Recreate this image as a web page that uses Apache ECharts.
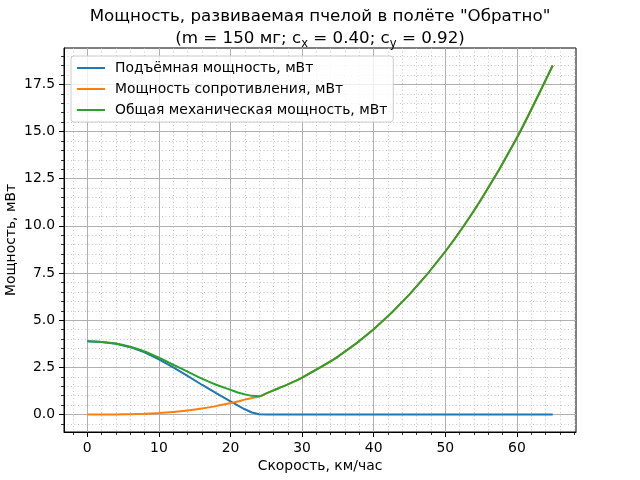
<!DOCTYPE html>
<html>
<head>
<meta charset="utf-8">
<script src="https://cdn.jsdelivr.net/npm/echarts@6/dist/echarts.min.js"></script>
<style>
  html, body { margin: 0; padding: 0; background: #fff; }
  #main { width: 640px; height: 480px; }
</style>
</head>
<body>
<div id="main"></div>
<script>
// скорость, км/час
var speeds = [0, 2, 4, 6, 8, 10, 12, 14, 16, 18, 20, 21, 22, 23, 24, 25, 26, 28, 30, 35, 40, 45, 50, 55, 60, 65];
// мощности, мВт
var liftPower = [3.88, 3.85, 3.75, 3.57, 3.30, 2.93, 2.50, 2.05, 1.58, 1.13, 0.70, 0.48, 0.28, 0.11, 0.02, 0, 0, 0, 0, 0, 0, 0, 0, 0, 0, 0];
var dragPower = [0, 0.001, 0.006, 0.018, 0.043, 0.081, 0.138, 0.216, 0.317, 0.447, 0.605, 0.69, 0.79, 0.88, 0.95, 1.12, 1.28, 1.60, 1.96, 3.07, 4.52, 6.37, 8.64, 11.40, 14.67, 18.5];
var totalPower = [3.88, 3.85, 3.76, 3.59, 3.34, 3.01, 2.64, 2.27, 1.90, 1.58, 1.31, 1.17, 1.07, 0.99, 0.97, 1.12, 1.28, 1.60, 1.96, 3.07, 4.52, 6.37, 8.64, 11.40, 14.67, 18.5];

var seriesNames = ['Подъёмная мощность, мВт', 'Мощность сопротивления, мВт', 'Общая механическая мощность, мВт'];
var seriesColors = ['#1f77b4', '#ff7f0e', '#2ca02c'];

var xMajor = [0, 10, 20, 30, 40, 50, 60];
var xMinor = [-2, 2, 4, 6, 8, 12, 14, 16, 18, 22, 24, 26, 28, 32, 34, 36, 38, 42, 44, 46, 48, 52, 54, 56, 58, 62, 64, 66, 68];
var yMajor = [0, 2.5, 5, 7.5, 10, 12.5, 15, 17.5];
var yMinor = [-0.5, 0.5, 1, 1.5, 2, 3, 3.5, 4, 4.5, 5.5, 6, 6.5, 7, 8, 8.5, 9, 9.5, 10.5, 11, 11.5, 12, 13, 13.5, 14, 14.5, 15.5, 16, 16.5, 17, 18, 18.5, 19];

var FONT = 'DejaVu Sans';

function pairs(ys) {
  return speeds.map(function (v, i) { return [v, ys[i]]; });
}

var chart = echarts.init(document.getElementById('main'));

var minorAxis = {
  axisLine: { show: false, onZero: false },
  axisLabel: { show: false },
  splitLine: { show: true, lineStyle: { color: '#b8b8b8', width: 0.8, type: [1, 2.5] } }
};

var option = {
  animation: false,
  backgroundColor: '#fff',
  textStyle: { fontFamily: FONT },
  title: {
    left: 'center',
    top: 1,
    text: 'Мощность, развиваемая пчелой в полёте "Обратно"\n(m = 150 мг; c{sub|x} = 0.40; c{sub|y} = 0.92)',
    textStyle: {
      fontFamily: FONT, fontSize: 16.7, fontWeight: 'normal', color: '#000', lineHeight: 22,
      rich: {
        sub: { fontFamily: FONT, fontSize: 11.5, color: '#000', verticalAlign: 'bottom', lineHeight: 12 }
      }
    }
  },
  legend: {
    orient: 'vertical',
    left: 71,
    top: 56,
    padding: [5, 6, 5, 6],
    icon: 'rect',
    itemWidth: 28,
    itemHeight: 2,
    itemGap: 7,
    backgroundColor: 'rgba(255,255,255,0.8)',
    borderColor: '#cccccc',
    borderWidth: 1,
    borderRadius: 3,
    textStyle: { fontFamily: FONT, fontSize: 13.9, color: '#000', padding: [0, 0, 0, 5] },
    data: seriesNames
  },
  grid: {
    left: 64, right: 64, top: 48, bottom: 48,
    outerBoundsMode: 'none', containLabel: false,
    show: true, borderColor: '#000', borderWidth: 1, backgroundColor: 'transparent'
  },
  xAxis: [
    {
      type: 'value', min: -3.25, max: 68.25,
      name: 'Скорость, км/час', nameLocation: 'middle', nameGap: 27, nameMoveOverlap: false,
      nameTextStyle: { fontFamily: FONT, fontSize: 13.9, color: '#000' },
      axisLine: { show: true, onZero: false, lineStyle: { color: '#000', width: 1 } },
      axisTick: { show: true, customValues: xMajor, length: 5, lineStyle: { color: '#000', width: 1 } },
      axisLabel: { customValues: xMajor, margin: 9, fontFamily: FONT, fontSize: 13.9, color: '#000' },
      splitLine: { show: true, lineStyle: { color: '#b0b0b0', width: 1 } }
    },
    Object.assign({
      type: 'value', min: -3.25, max: 68.25, position: 'bottom',
      axisTick: { show: true, customValues: xMinor, length: 3, lineStyle: { color: '#000', width: 0.8 } }
    }, minorAxis)
  ],
  yAxis: [
    {
      type: 'value', min: -0.925, max: 19.425,
      name: 'Мощность, мВт', nameLocation: 'middle', nameGap: 46, nameMoveOverlap: false,
      nameTextStyle: { fontFamily: FONT, fontSize: 13.9, color: '#000' },
      axisLine: { show: true, onZero: false, lineStyle: { color: '#000', width: 1 } },
      axisTick: { show: true, customValues: yMajor, length: 5, lineStyle: { color: '#000', width: 1 } },
      axisLabel: {
        customValues: yMajor, margin: 9, fontFamily: FONT, fontSize: 13.9, color: '#000',
        formatter: function (v) { return v.toFixed(1); }
      },
      splitLine: { show: true, lineStyle: { color: '#b0b0b0', width: 1 } }
    },
    Object.assign({
      type: 'value', min: -0.925, max: 19.425, position: 'left',
      axisTick: { show: true, customValues: yMinor, length: 3, lineStyle: { color: '#000', width: 0.8 } }
    }, minorAxis)
  ],
  series: [liftPower, dragPower, totalPower].map(function (ys, i) {
    return {
      name: seriesNames[i],
      type: 'line',
      data: pairs(ys),
      symbol: 'none',
      smooth: i === 0 ? false : 0.25,
      color: seriesColors[i],
      lineStyle: { color: seriesColors[i], width: 2 },
      z: 3 + i
    };
  })
};

chart.setOption(option);
</script>
</body>
</html>
